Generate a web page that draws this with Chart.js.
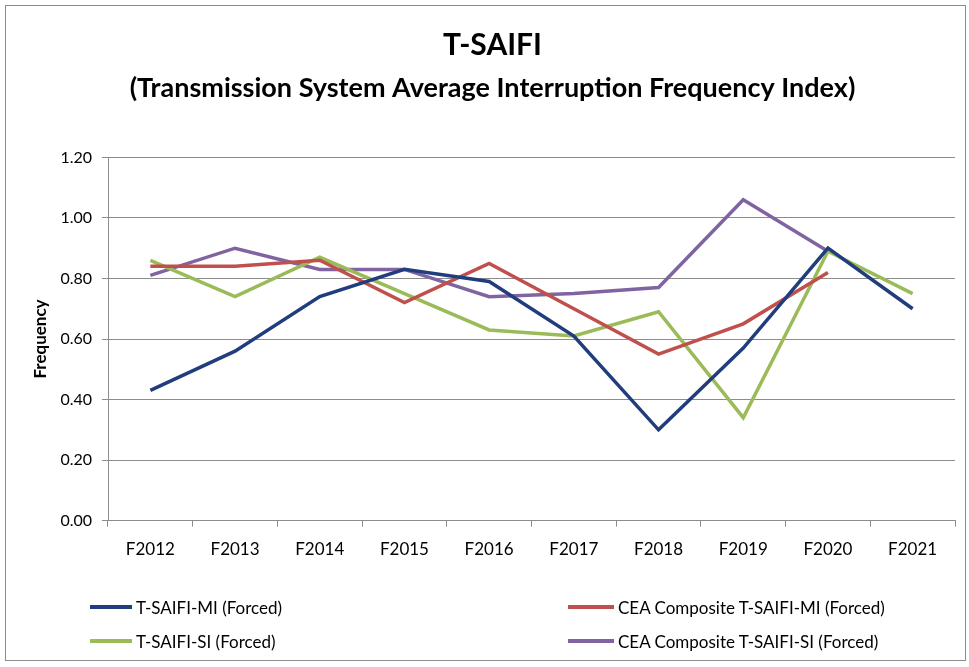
<!DOCTYPE html>
<html>
<head>
<meta charset="utf-8">
<script src="https://cdn.jsdelivr.net/npm/chart.js@4.4.1/dist/chart.umd.min.js"></script>
<style>
  html, body { margin: 0; padding: 0; background: #fff; }
  #frame { position: absolute; left: 5px; top: 5px; width: 959px; height: 654px; border: 1px solid #8c8c8c; }
  #wrap { position: absolute; left: 0; top: 0; width: 969px; height: 667px; }
  #legend { position: absolute; left: 0; top: 0; width: 969px; height: 667px; pointer-events: none;
            font-family: Lato, "Noto Sans", sans-serif; font-size: 17px; color: #000; }
  .item { position: absolute; display: flex; align-items: center; height: 20px; white-space: nowrap; }
  .swatch { display: inline-block; height: 4px; margin-right: 4px; }
</style>
</head>
<body>
<div id="frame"></div>
<div id="wrap"><canvas id="saifiChart" width="969" height="667"></canvas></div>
<div id="legend"></div>
<script>
// Datos (frecuencia por año fiscal)
const years = ['F2012', 'F2013', 'F2014', 'F2015', 'F2016', 'F2017', 'F2018', 'F2019', 'F2020', 'F2021'];
const saifiMI = [0.43, 0.56, 0.74, 0.83, 0.79, 0.61, 0.30, 0.57, 0.90, 0.70];
const ceaMI = [0.84, 0.84, 0.86, 0.72, 0.85, 0.70, 0.55, 0.65, 0.82, null];
const saifiSI = [0.86, 0.74, 0.87, 0.75, 0.63, 0.61, 0.69, 0.34, 0.89, 0.75];
const ceaSI = [0.81, 0.90, 0.83, 0.83, 0.74, 0.75, 0.77, 1.06, 0.89, null];
const yTicks = [0, 0.2, 0.4, 0.6, 0.8, 1.0, 1.2];

const seriesNames = ['T-SAIFI-MI (Forced)', 'CEA Composite T-SAIFI-MI (Forced)', 'T-SAIFI-SI (Forced)', 'CEA Composite T-SAIFI-SI (Forced)'];
const seriesColors = ['#213D7D', '#C0504D', '#9BBB59', '#8064A2'];

const font = 'Lato, "Noto Sans", sans-serif';
const gridColor = '#8c8c8c';

function makeSet(i, values) {
    return {
        label: seriesNames[i],
        data: values,
        borderColor: seriesColors[i],
        backgroundColor: seriesColors[i],
        borderWidth: 3.5,
        pointRadius: 0,
        tension: 0,
        spanGaps: false
    };
}

const chart = new Chart(document.getElementById('saifiChart'), {
    type: 'line',
    data: {
        labels: years,
        datasets: [makeSet(0, saifiMI), makeSet(1, ceaMI), makeSet(2, saifiSI), makeSet(3, ceaSI)]
    },
    options: {
        responsive: false,
        animation: false,
        layout: { padding: { left: 30, right: 14, top: 0, bottom: 94 } },
        plugins: {
            legend: { display: false },
            tooltip: { enabled: false },
            title: {
                display: true,
                text: 'T-SAIFI',
                color: '#000',
                font: { family: font, size: 30, weight: 'bold' },
                padding: { top: 27, bottom: 9 }
            },
            subtitle: {
                display: true,
                text: '(Transmission System Average Interruption Frequency Index)',
                color: '#000',
                font: { family: font, size: 27, weight: 'bold' },
                padding: { top: 0, bottom: 53 }
            }
        },
        scales: {
            x: {
                offset: true,
                grid: { display: true, drawOnChartArea: false, drawTicks: true, tickLength: 6, color: gridColor, offset: true },
                border: { color: gridColor },
                ticks: { color: '#000', font: { family: font, size: 17 }, padding: 13, maxRotation: 0 }
            },
            y: {
                min: 0,
                max: 1.2,
                afterBuildTicks: (scale) => { scale.ticks = yTicks.map(v => ({ value: v })); },
                afterFit: (scale) => { scale.width = 78; },
                grid: { color: gridColor, tickLength: 6 },
                border: { color: gridColor },
                ticks: { color: '#000', font: { family: font, size: 16 }, padding: 10,
                         callback: (v) => Number(v).toFixed(2) },
                title: { display: true, text: 'Frequency', color: '#000',
                         font: { family: font, size: 17, weight: 'bold' }, padding: { top: 0, bottom: 0 } }
            }
        }
    }
});

// Leyenda en dos columnas, construida desde los datasets
const legend = document.getElementById('legend');
const slots = [
    { x: 90, y: 597, w: 42 },
    { x: 568, y: 597, w: 46 },
    { x: 90, y: 631, w: 42 },
    { x: 568, y: 631, w: 46 }
];
chart.data.datasets.forEach((ds, i) => {
    const item = document.createElement('div');
    item.className = 'item';
    item.style.left = slots[i].x + 'px';
    item.style.top = slots[i].y + 'px';
    const sw = document.createElement('span');
    sw.className = 'swatch';
    sw.style.width = slots[i].w + 'px';
    sw.style.background = ds.borderColor;
    const txt = document.createElement('span');
    txt.textContent = ds.label;
    item.appendChild(sw);
    item.appendChild(txt);
    legend.appendChild(item);
});
</script>
</body>
</html>
